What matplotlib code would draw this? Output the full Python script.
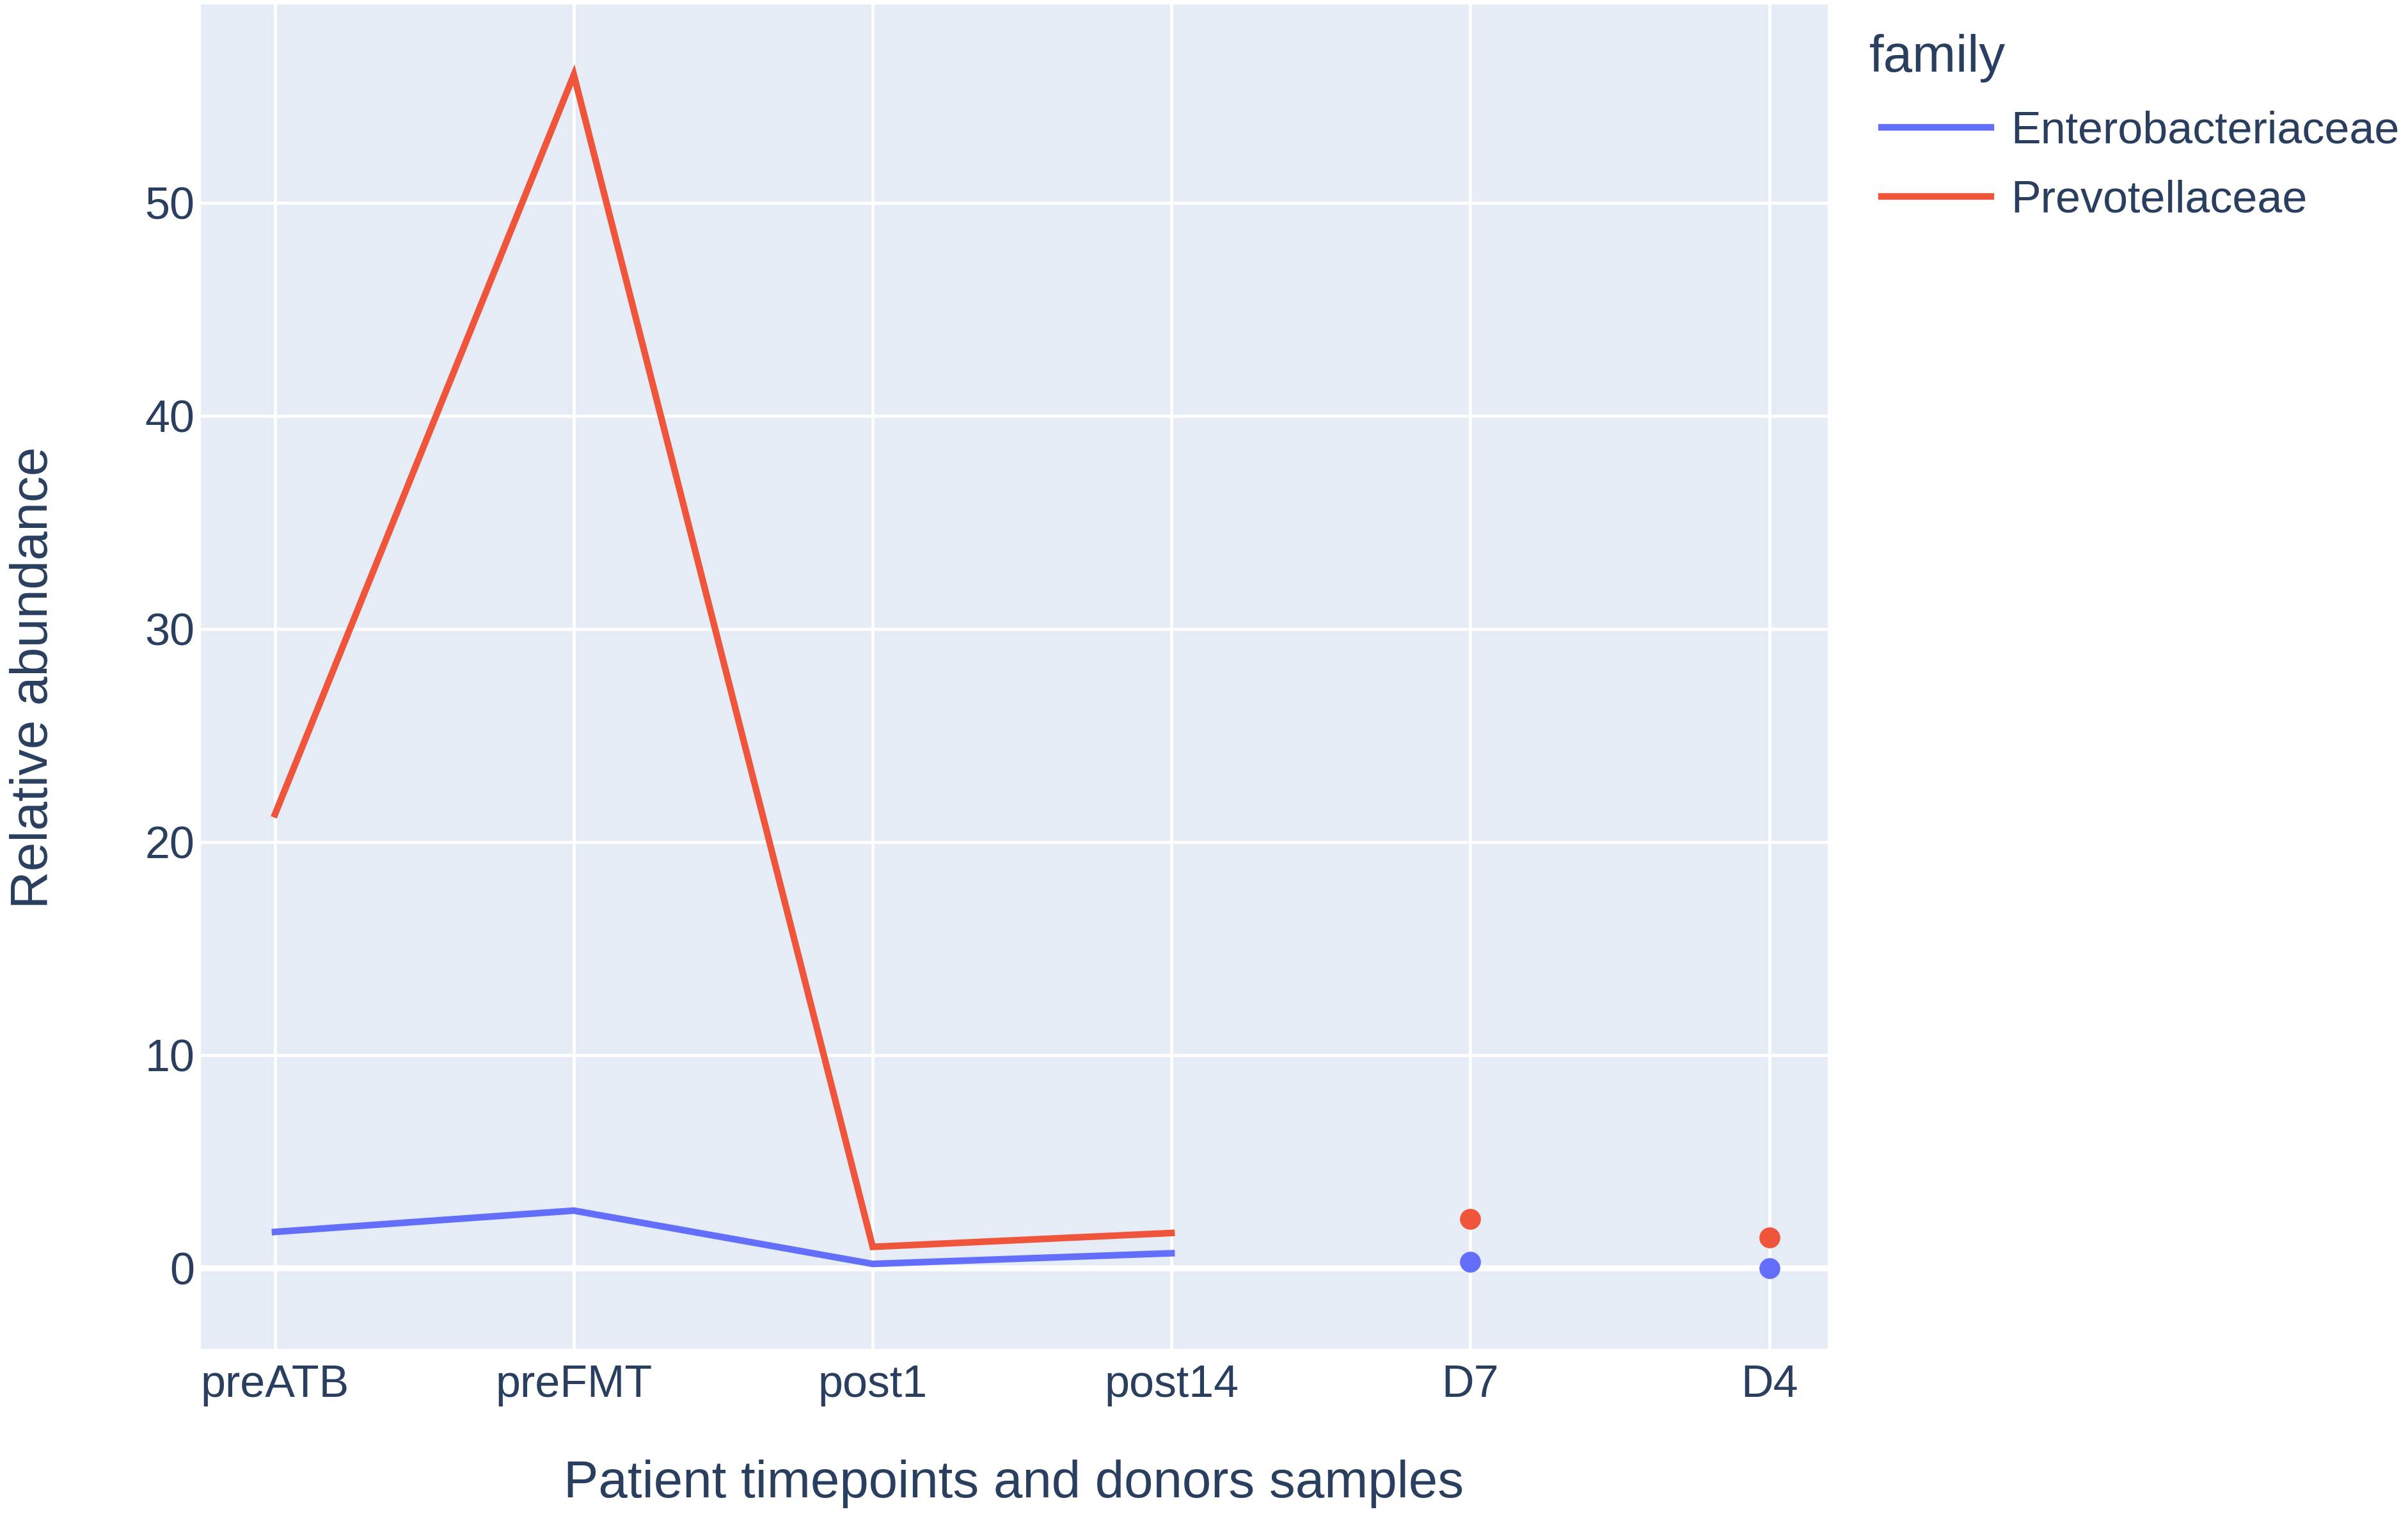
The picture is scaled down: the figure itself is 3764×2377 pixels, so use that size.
import numpy as np
import matplotlib.pyplot as plt
from matplotlib.lines import Line2D

# sample order on the x axis
samples = ["preATB", "preFMT", "post1", "post14", "D7", "D4"]
patient = ["preATB", "preFMT", "post1", "post14"]
donors = ["D7", "D4"]

# relative abundance per family
entero_patient = [1.7, 2.7, 0.2, 0.7]
entero_donors = [0.3, 0.0]
prevo_patient = [21.3, 56.0, 1.0, 1.65]
prevo_donors = [2.3, 1.45]

blue = "#636EFA"
red = "#EF553B"
txt = "#2a3f5f"

plt.rcParams["font.family"] = ["Liberation Sans", "DejaVu Sans"]

fig = plt.figure(figsize=(3764 / 240, 2377 / 240), dpi=240)
ax = fig.add_axes([131 / 1568, 0.113, (1190 - 131) / 1568, 0.884])
ax.set_facecolor("#E5ECF6")

pos = {s: i for i, s in enumerate(samples)}
xp = [pos[s] for s in patient]
xd = [pos[s] for s in donors]

ax.plot(xp, entero_patient, color=blue, lw=3.1, zorder=3, solid_joinstyle="miter")
ax.plot(xp, prevo_patient, color=red, lw=3.1, zorder=3, solid_joinstyle="miter")
ax.plot(xd, entero_donors, "o", color=blue, ms=8.8, zorder=3)
ax.plot(xd, prevo_donors, "o", color=red, ms=8.8, zorder=3)

ax.set_xlim(-0.247, 5.195)
ax.set_ylim(-3.8, 59.3)
ax.set_xticks(range(len(samples)))
ax.set_xticklabels(samples)
ax.set_yticks([0, 10, 20, 30, 40, 50])

ax.grid(True, color="white", lw=1.45, zorder=0)
ax.set_axisbelow(True)
ax.axhline(0, color="white", lw=2.9, zorder=1)
for s in ax.spines.values():
    s.set_visible(False)
ax.tick_params(length=0, labelsize=21, colors=txt)
ax.tick_params(axis="x", pad=7)
ax.tick_params(axis="y", pad=3)

# axis titles placed in figure coordinates
fig.text(660 / 1568, 1 - 966 / 990, "Patient timepoints and donors samples",
         fontsize=24.5, color=txt, ha="center", va="center")
fig.text(22 / 1568, 1 - 441 / 990, "Relative abundance", fontsize=24.5, color=txt,
         ha="center", va="center", rotation=90)

# legend title and entries
fig.text(1217 / 1568, 1 - 38 / 990, "family", fontsize=24.5, color=txt,
         ha="left", va="center")
handles = [Line2D([], [], color=blue, lw=3.1), Line2D([], [], color=red, lw=3.1)]
leg = fig.legend(handles, ["Enterobacteriaceae", "Prevotellaceae"],
                 loc="center left", bbox_to_anchor=(1225 / 1568, 1 - 108 / 990), frameon=False,
                 fontsize=21, handlelength=2.45, handletextpad=0.45,
                 labelspacing=0.6, borderpad=0, borderaxespad=0)
for t in leg.get_texts():
    t.set_color(txt)

fig.savefig("out.png", dpi=240, facecolor="white")
